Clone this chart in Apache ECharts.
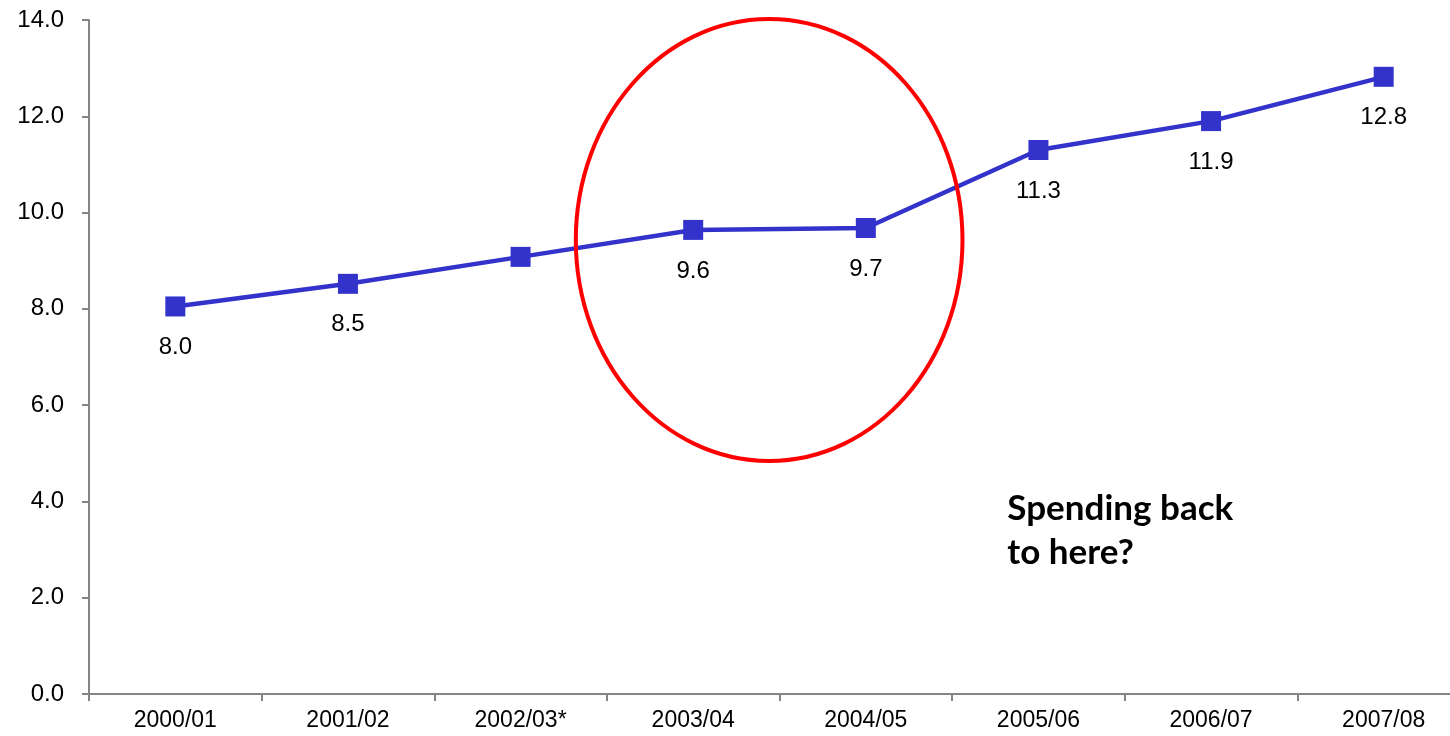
<!DOCTYPE html>
<html>
<head>
<meta charset="utf-8">
<script src="https://cdn.jsdelivr.net/npm/echarts@6/dist/echarts.min.js"></script>
<style>html,body{margin:0;padding:0;background:#fff;}#c{width:1450px;height:736px;}</style>
</head>
<body>
<div id="c"></div>
<script>
var categories = ['2000/01','2001/02','2002/03*','2003/04','2004/05','2005/06','2006/07','2007/08'];
var spending = [8.05, 8.52, 9.08, 9.64, 9.68, 11.3, 11.9, 12.82];
var pointLabels = ['8.0','8.5','','9.6','9.7','11.3','11.9','12.8'];
var yTicks = {min: 0, max: 14, interval: 2};
var noteText = ['Spending back', 'to here?'];

var chart = echarts.init(document.getElementById('c'));
var font = 'Liberation Sans, Arial, sans-serif';
chart.setOption({
  animation: false,
  grid: {left: 89, top: 20, width: 1381, height: 674, outerBoundsMode: 'none', containLabel: false},
  xAxis: {
    type: 'category', data: categories, boundaryGap: true,
    axisLine: {lineStyle: {color: '#858585', width: 2}},
    axisTick: {show: true, length: 7, alignWithLabel: false, lineStyle: {color: '#858585', width: 2}},
    axisLabel: {color: '#000', fontFamily: font, fontSize: 23, margin: 15, interval: 0}
  },
  yAxis: {
    type: 'value', min: yTicks.min, max: yTicks.max, interval: yTicks.interval,
    axisLine: {show: true, lineStyle: {color: '#858585', width: 2}},
    axisTick: {show: true, length: 7, lineStyle: {color: '#858585', width: 2}},
    splitLine: {show: false},
    axisLabel: {color: '#000', fontFamily: font, fontSize: 24, margin: 25,
      formatter: function (v) { return v.toFixed(1); }}
  },
  series: [{
    type: 'line', data: spending,
    symbol: 'rect', symbolSize: 20,
    lineStyle: {color: '#3333CC', width: 4.5},
    itemStyle: {color: '#3333CC'},
    label: {show: true, position: 'bottom', distance: 19, color: '#000',
      fontFamily: font, fontSize: 24,
      formatter: function (p) { return pointLabels[p.dataIndex]; }}
  }]
});

function px(xi, yv) { return chart.convertToPixel({gridIndex: 0}, [xi, yv]); }
function lerpX(fx) {
  var a = px(Math.floor(fx), 0)[0], b = px(Math.floor(fx) + 1, 0)[0];
  return a + (b - a) * (fx - Math.floor(fx));
}
var cx = lerpX(3.44), cy = px(0, 9.43)[1];
var rx = lerpX(4.56) - cx, ry = px(0, 4.84)[1] - cy;
var tx = lerpX(4.82), ty = px(0, 4.3)[1];
chart.setOption({
  graphic: [
    {type: 'ellipse', shape: {cx: cx, cy: cy, rx: rx, ry: ry},
     style: {fill: 'none', stroke: '#FF0000', lineWidth: 4}, z: 10},
    {type: 'text', x: tx, y: ty,
     style: {text: noteText.join('\n'), fill: '#000', font: 'bold 35px Lato, "Open Sans", sans-serif', lineHeight: 44}, z: 10}
  ]
});
</script>
</body>
</html>
